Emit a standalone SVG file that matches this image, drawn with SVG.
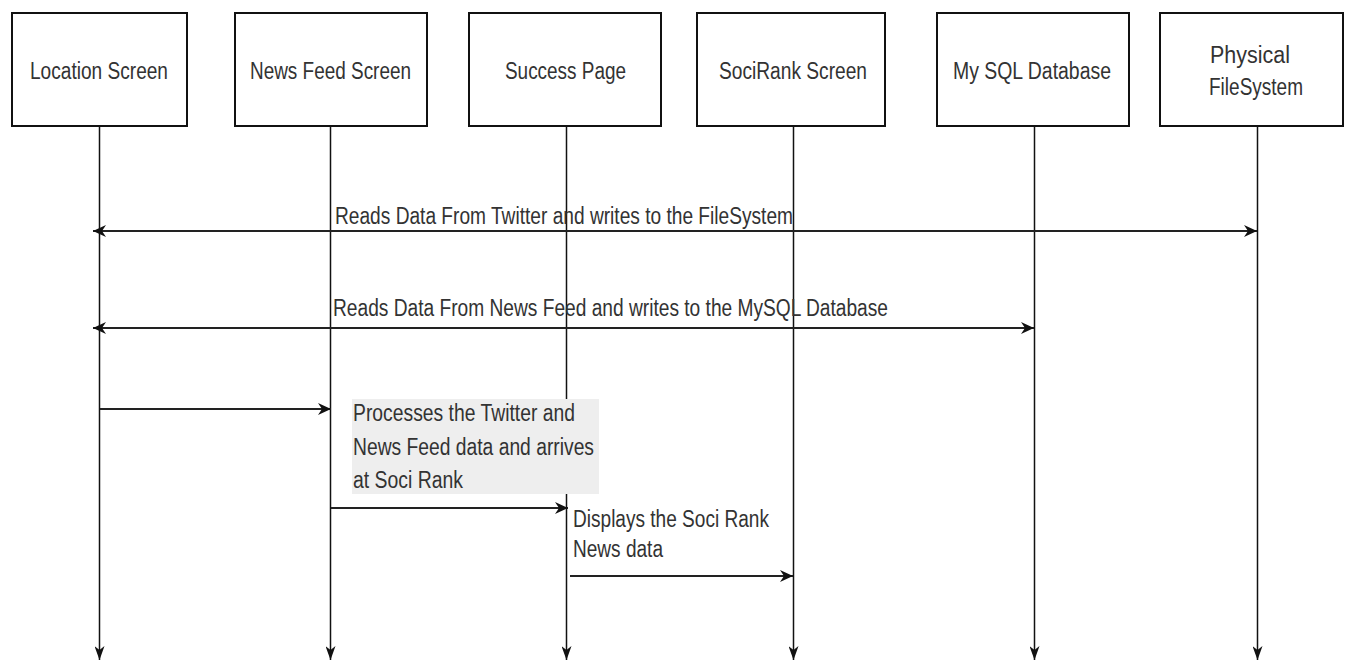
<svg xmlns="http://www.w3.org/2000/svg" width="1345" height="661" viewBox="0 0 1345 661">
<style>
.box{fill:#fff;stroke:#111;stroke-width:2}
.t{font-family:"Liberation Sans",Arial,sans-serif;font-size:23px;fill:#333}
.life{stroke:#111;stroke-width:1.5;fill:none}
.msg{stroke:#222;stroke-width:2.2;fill:none}
</style>
<defs>
<marker id="ah" markerUnits="userSpaceOnUse" markerWidth="14" markerHeight="12" refX="13" refY="6" orient="auto-start-reverse">
<path d="M0,0 L13,6 L0,12 L4,6 z" fill="#111"/>
</marker>
<marker id="lh" markerUnits="userSpaceOnUse" markerWidth="14" markerHeight="10" refX="14" refY="5" orient="auto">
<path d="M0,0 L14,5 L0,10 L4,5 z" fill="#111"/>
</marker>
</defs>
<g id="connectors">
<line class="life" x1="99.5" y1="126" x2="99.5" y2="660" marker-end="url(#lh)"/>
<line class="life" x1="330.5" y1="126" x2="330.5" y2="660" marker-end="url(#lh)"/>
<line class="life" x1="566.5" y1="126" x2="566.5" y2="660" marker-end="url(#lh)"/>
<line class="life" x1="793.5" y1="126" x2="793.5" y2="660" marker-end="url(#lh)"/>
<line class="life" x1="1034.5" y1="126" x2="1034.5" y2="660" marker-end="url(#lh)"/>
<line class="life" x1="1257.5" y1="126" x2="1257.5" y2="660" marker-end="url(#lh)"/>
<line class="msg" x1="93" y1="231" x2="1257" y2="231" marker-start="url(#ah)" marker-end="url(#ah)"/>
<line class="msg" x1="93" y1="328" x2="1034" y2="328" marker-start="url(#ah)" marker-end="url(#ah)"/>
<line class="msg" x1="100" y1="409" x2="331" y2="409" marker-end="url(#ah)"/>
<line class="msg" x1="331" y1="508" x2="568" y2="508" marker-end="url(#ah)"/>
<line class="msg" x1="570" y1="576" x2="793" y2="576" marker-end="url(#ah)"/>
</g>
<g id="node-location">
<rect class="box" x="12" y="13" width="175" height="113"/>
<text class="t" x="30" y="79" textLength="138" lengthAdjust="spacingAndGlyphs">Location Screen</text>
</g>
<g id="node-newsfeed">
<rect class="box" x="235" y="13" width="192" height="113"/>
<text class="t" x="250" y="79" textLength="161" lengthAdjust="spacingAndGlyphs">News Feed Screen</text>
</g>
<g id="node-success">
<rect class="box" x="469" y="13" width="192" height="113"/>
<text class="t" x="505" y="79" textLength="121" lengthAdjust="spacingAndGlyphs">Success Page</text>
</g>
<g id="node-socirank">
<rect class="box" x="697" y="13" width="188" height="113"/>
<text class="t" x="719" y="79" textLength="148" lengthAdjust="spacingAndGlyphs">SociRank Screen</text>
</g>
<g id="node-mysql">
<rect class="box" x="937" y="13" width="192" height="113"/>
<text class="t" x="953" y="79" textLength="158" lengthAdjust="spacingAndGlyphs">My SQL Database</text>
</g>
<g id="node-filesystem">
<rect class="box" x="1160" y="13" width="183" height="113"/>
<text class="t" x="1210" y="63" textLength="80" lengthAdjust="spacingAndGlyphs">Physical</text>
<text class="t" x="1209" y="95" textLength="94" lengthAdjust="spacingAndGlyphs">FileSystem</text>
</g>
<g id="labels">
<text class="t" x="335" y="224" textLength="458" lengthAdjust="spacingAndGlyphs">Reads Data From Twitter and writes to the FileSystem</text>
<text class="t" x="333" y="316" textLength="555" lengthAdjust="spacingAndGlyphs">Reads Data From News Feed and writes to the MySQL Database</text>
<rect x="352" y="399" width="247" height="95" fill="#eeeeee"/>
<text class="t" x="353" y="421" textLength="222" lengthAdjust="spacingAndGlyphs">Processes the Twitter and</text>
<text class="t" x="353" y="455" textLength="241" lengthAdjust="spacingAndGlyphs">News Feed data and arrives</text>
<text class="t" x="353" y="488" textLength="110" lengthAdjust="spacingAndGlyphs">at Soci Rank</text>
<text class="t" x="573" y="527" textLength="196" lengthAdjust="spacingAndGlyphs">Displays the Soci Rank</text>
<text class="t" x="573" y="557" textLength="90" lengthAdjust="spacingAndGlyphs">News data</text>
</g>
</svg>
